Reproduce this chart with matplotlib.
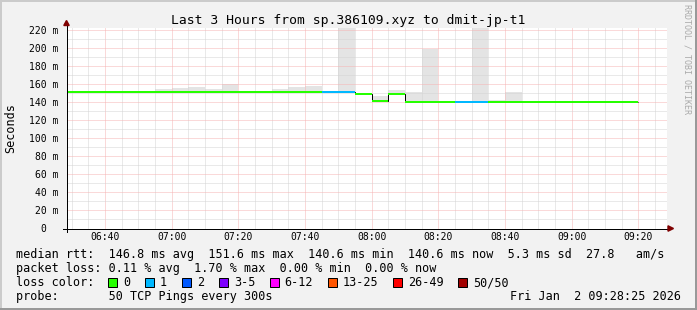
import numpy as np
import pandas as pd
import matplotlib
matplotlib.use("Agg")
import matplotlib.pyplot as plt
import matplotlib.dates as mdates
from matplotlib.ticker import MultipleLocator, FuncFormatter
from matplotlib.patches import Rectangle, Polygon

# ------------------------------------------
# data
# ------------------------------------------
t_start = pd.Timestamp("2026-01-02 06:28:25")
t_end = pd.Timestamp("2026-01-02 09:28:25")
# start of each 5 minute step
bin_start = pd.date_range("2026-01-02 06:25", "2026-01-02 09:15", freq="5min")

median_ms = [151.6, 151.6, 151.6, 151.6, 151.6, 151.6, 151.6, 151.6,
             151.6, 151.6, 151.6, 151.6, 151.6, 151.6, 151.6, 151.6,
             151.6, 151.6, 149.4, 142.0, 149.4,
             140.6, 140.6, 140.6, 140.6, 140.6, 140.6, 140.6,
             140.6, 140.6, 140.6, 140.6, 140.6, 140.6, 140.6]
lost = [0, 0, 0, 0, 0, 0, 0, 0, 0, 0, 0, 0, 0, 0, 0, 0,
        1, 1, 0, 0, 0,
        0, 0, 0, 1, 1, 0, 0, 0, 0, 0, 0, 0, 0, 0]
smoke_top = [np.nan, np.nan, np.nan, np.nan, np.nan, np.nan,
             155.2, 155.9, 156.7, 155.2, 160.4, np.nan, np.nan,
             155.0, 156.7, 157.8, np.nan, 400.0, np.nan,
             146.7, 153.7, 152.2, 198.9, np.nan, np.nan, 400.0,
             143.3, 152.2, np.nan, np.nan, np.nan, np.nan, np.nan, np.nan, np.nan]

loss_labels = ["0", "1", "2", "3-5", "6-12", "13-25", "26-49", "50/50"]
loss_colors = ["#26ff00", "#00b8ff", "#0059ff", "#7e00ff",
               "#ff00ff", "#ff5500", "#ff0000", "#a10000"]

title = "Last 3 Hours from sp.386109.xyz to dmit-jp-t1"
rtt_line = "median rtt:  146.8 ms avg  151.6 ms max  140.6 ms min  140.6 ms now  5.3 ms sd  27.8   am/s"
loss_line = "packet loss: 0.11 % avg  1.70 % max  0.00 % min  0.00 % now"
probe_line = "probe:       50 TCP Pings every 300s"
stamp = "Fri Jan  2 09:28:25 2026"

# ------------------------------------------
# figure / helpers (pixel coords, y from top)
# ------------------------------------------
W, H = 697, 310
MONO = "DejaVu Sans Mono"
fig = plt.figure(figsize=(W / 100, H / 100), dpi=100, facecolor="#f2f2f2")


def fx(px):
    return px / W


def fy(py):
    return 1 - py / H


def px_rect(x, y, w, h, **kw):
    fig.add_artist(Rectangle((fx(x), fy(y + h)), w / W, h / H,
                             transform=fig.transFigure, **kw))


ax = fig.add_axes([fx(66.5), fy(228.5), 600 / W, 201 / H])
ax.set_facecolor("white")

edges = mdates.date2num(list(bin_start) + [bin_start[-1] + pd.Timedelta(minutes=5)])
med = np.array(median_ms)
top = np.array(smoke_top)

# smoke
ax.bar(edges[:-1], top - med, bottom=med, width=np.diff(edges), align="edge",
       color="#e4e4e4", linewidth=0, zorder=1)

# median: black step + coloured by loss
ax.stairs(med, edges, baseline=None, color="black", linewidth=0.72, zorder=3)
ax.hlines(med, edges[:-1], edges[1:], colors=[loss_colors[l] for l in lost],
          linewidth=1.44, capstyle="butt", zorder=4)

ax.set_xlim(mdates.date2num(t_start), mdates.date2num(t_end))
ax.set_ylim(0, 223.33)

ax.xaxis.set_major_locator(mdates.MinuteLocator(byminute=[0, 20, 40]))
ax.xaxis.set_minor_locator(mdates.MinuteLocator(byminute=range(0, 60, 5)))
ax.xaxis.set_major_formatter(mdates.DateFormatter("%H:%M"))
ax.yaxis.set_major_locator(MultipleLocator(20))
ax.yaxis.set_minor_locator(MultipleLocator(10))
ax.yaxis.set_major_formatter(FuncFormatter(lambda v, p: "0  " if v == 0 else f"{v:.0f} m"))

ax.set_axisbelow("line")
ax.grid(which="major", color="#f6b4b4", linestyle=(0, (1, 1)), linewidth=0.72)
ax.grid(which="minor", color="#d4d4d4", linestyle=(0, (1, 1)), linewidth=0.72)
ax.tick_params(which="both", length=0)
ax.tick_params(axis="y", pad=5.5, labelsize=7)
ax.tick_params(axis="x", pad=2.8, labelsize=7)
for lab in ax.get_xticklabels() + ax.get_yticklabels():
    lab.set_family(MONO)
for s in ax.spines.values():
    s.set_visible(False)

# axes with arrows
ax.plot([0, 0], [-3 / 201, 1 + 3 / 201], transform=ax.transAxes,
        color="black", linewidth=0.72, clip_on=False, zorder=5)
ax.plot([-4 / 600, 1 + 2 / 600], [0, 0], transform=ax.transAxes,
        color="black", linewidth=0.72, clip_on=False, zorder=5)
arrow_c = "#7f0000"
fig.add_artist(Polygon([(fx(63.8), fy(25.5)), (fx(69.2), fy(25.5)), (fx(66.5), fy(20.5))],
                       closed=True, transform=fig.transFigure, color=arrow_c))
fig.add_artist(Polygon([(fx(668), fy(225.8)), (fx(668), fy(231.2)), (fx(673.5), fy(228.5))],
                       closed=True, transform=fig.transFigure, color=arrow_c))

# texts
fig.text(0.5, fy(24), title, ha="center", va="baseline", family=MONO, size=9.4)
fig.text(fx(11), fy(128), "Seconds", rotation=90, ha="center", va="center",
         family=MONO, size=8.5)
fig.text(fx(687), fy(4.5), "RRDTOOL / TOBI OETIKER", rotation=270, ha="center",
         va="top", family=MONO, size=6, color="#aaaaaa")

fig.text(fx(16), fy(258), rtt_line, va="baseline", family=MONO, size=8.5)
fig.text(fx(16), fy(272), loss_line, va="baseline", family=MONO, size=8.5)
fig.text(fx(16), fy(286), "loss color:", va="baseline", family=MONO, size=8.5)
fig.text(fx(16), fy(300), probe_line, va="baseline", family=MONO, size=8.5)
fig.text(fx(681), fy(300), stamp, ha="right", va="baseline", family=MONO, size=8.5)

bx = 108.3
for lab, col in zip(loss_labels, loss_colors):
    px_rect(bx, 278, 9, 9, facecolor=col, edgecolor="black", linewidth=0.72)
    fig.text(fx(bx + 15), fy(286), lab, va="baseline", family=MONO, size=8.5)
    bx += 29.7 + 7.1 * len(lab)

# 3d frame
px_rect(0, 0, W, 2, facecolor="#cbcbcb", linewidth=0)
px_rect(0, 0, 2, H, facecolor="#cbcbcb", linewidth=0)
px_rect(0, H - 2, W, 2, facecolor="#999999", linewidth=0)
px_rect(W - 2, 0, 2, H, facecolor="#999999", linewidth=0)

fig.savefig("out.png", dpi=100, facecolor=fig.get_facecolor())
